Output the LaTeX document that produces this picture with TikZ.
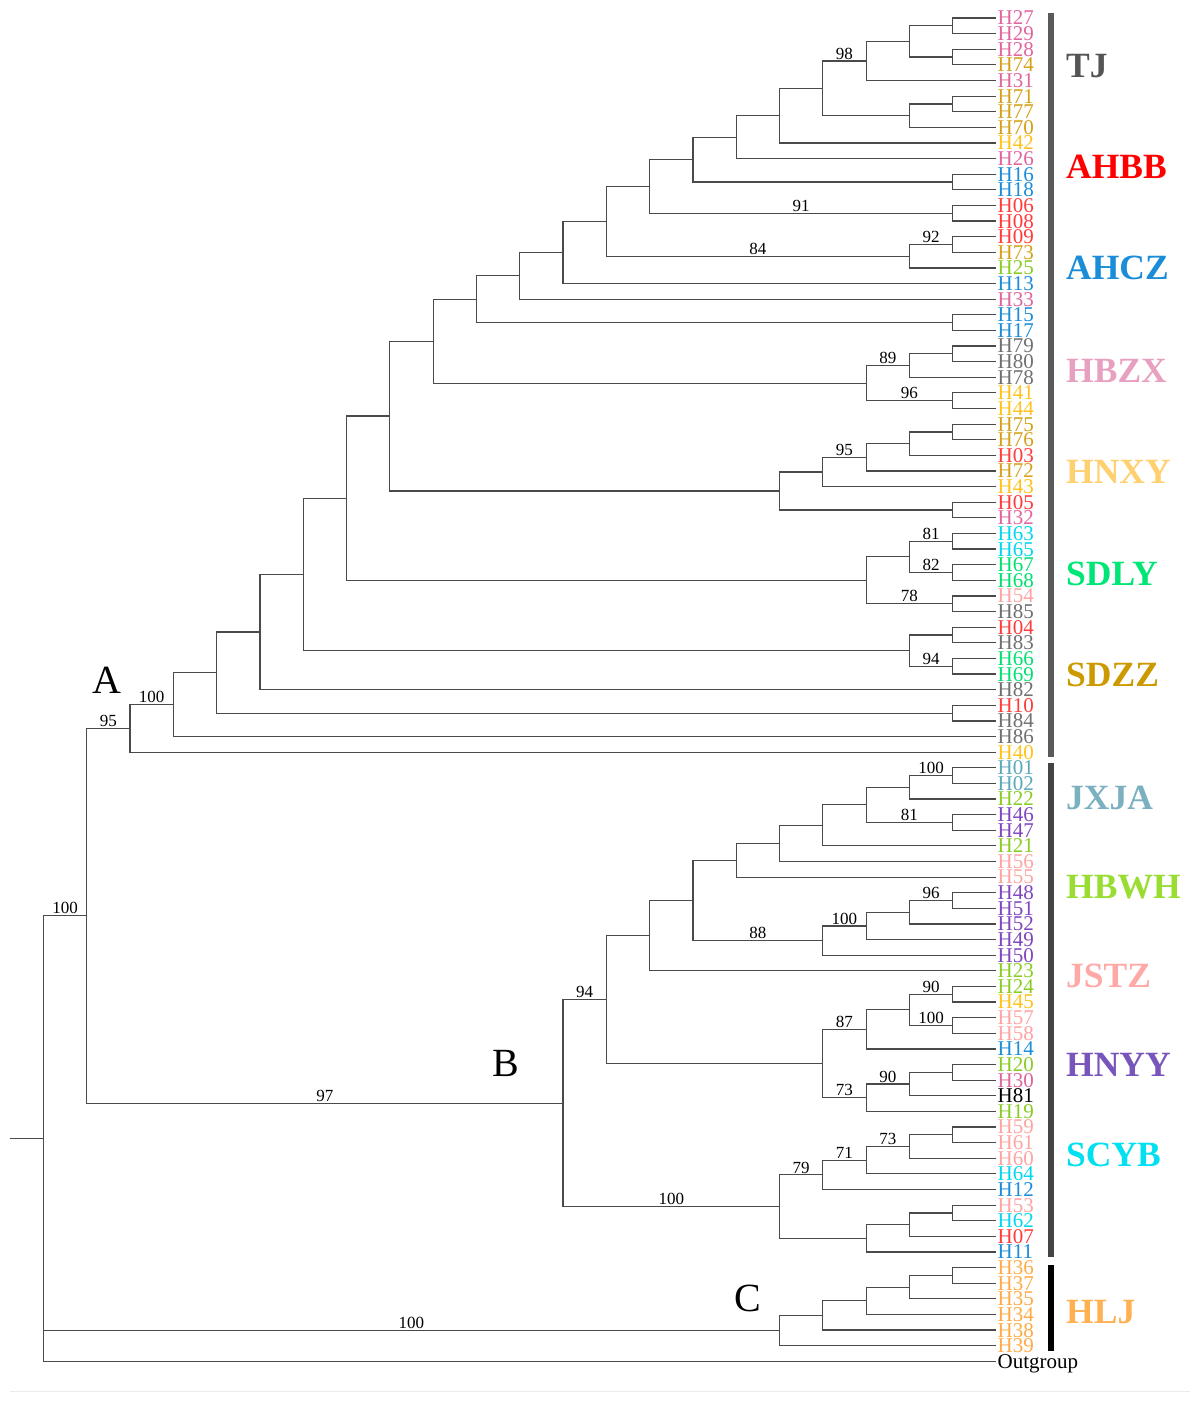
\documentclass[tikz,border=0pt]{standalone}
\usepackage{fontspec}
\setmainfont{Liberation Serif}
\usetikzlibrary{calc}

\definecolor{treeline}{HTML}{4A4A4A}
\definecolor{tj}{HTML}{707070}
\definecolor{ahbb}{HTML}{FF3B3B}
\definecolor{ahcz}{HTML}{1A8CD8}
\definecolor{hbzx}{HTML}{E0649E}
\definecolor{hnxy}{HTML}{FFC21A}
\definecolor{sdly}{HTML}{00E070}
\definecolor{sdzz}{HTML}{D4A017}
\definecolor{jxja}{HTML}{5AA8B8}
\definecolor{hbwh}{HTML}{88CC22}
\definecolor{jstz}{HTML}{FFA3A3}
\definecolor{hnyy}{HTML}{7F45BF}
\definecolor{scyb}{HTML}{00D8F0}
\definecolor{hlj}{HTML}{FFAA44}
\definecolor{tjlab}{HTML}{555555}
\definecolor{ahbblab}{HTML}{FF0000}
\definecolor{ahczlab}{HTML}{1A8CD8}
\definecolor{hbzxlab}{HTML}{E8A0C0}
\definecolor{hnxylab}{HTML}{FFD070}
\definecolor{sdlylab}{HTML}{00E676}
\definecolor{sdzzlab}{HTML}{CC9900}
\definecolor{jxjalab}{HTML}{7AB0C0}
\definecolor{hbwhlab}{HTML}{99DD33}
\definecolor{jstzlab}{HTML}{FFA8A8}
\definecolor{hnyylab}{HTML}{7755BB}
\definecolor{scyblab}{HTML}{00E0F0}
\definecolor{hljlab}{HTML}{FFB050}
\definecolor{barA}{HTML}{5A5A5A}
\definecolor{barB}{HTML}{444444}

\newcommand{\mkclade}[4]{%
  \coordinate (#1) at ($(#3)!.5!(#4)$);
  \coordinate (#1) at (L#2 |- #1);
  \draw[branch] (#3) -| (#1) |- (#4);
}
\newcommand{\bootlabel}[3]{%
  \path (#1 |- #2) -- (#2) node[boot, midway] (bs-#2) {#3};
}

\begin{document}
\begin{tikzpicture}[
    x=1pt, y=-1pt,
    branch/.style={draw=treeline, line width=1.2pt},
    leaf/.style={anchor=west, inner xsep=1.5pt, inner ysep=0pt, text depth=0pt,
        font=\fontsize{21}{21}\selectfont},
    boot/.style={above, inner sep=1.5pt, font=\fontsize{17}{17}\selectfont},
    clade/.style={font=\fontsize{40}{40}\selectfont},
    group/.style={anchor=west, inner sep=0pt, font=\fontsize{35.5}{35.5}\selectfont\bfseries},
    bar/.style={line width=5.5pt}
]
\useasboundingbox (0,0) rectangle (1197,1401);
\foreach \k in {0,...,22}
    \coordinate (L\k) at ({996-43.3*\k},0);
\foreach \name/\col [count=\i] in {
    H27/hbzx, H29/hbzx, H28/hbzx, H74/sdzz, H31/hbzx, H71/sdzz, H77/sdzz, H70/sdzz,
    H42/hnxy, H26/hbzx, H16/ahcz, H18/ahcz, H06/ahbb, H08/ahbb, H09/ahbb, H73/sdzz,
    H25/hbwh, H13/ahcz, H33/hbzx, H15/ahcz, H17/ahcz, H79/tj, H80/tj, H78/tj,
    H41/hnxy, H44/hnxy, H75/sdzz, H76/sdzz, H03/ahbb, H72/sdzz, H43/hnxy, H05/ahbb,
    H32/hbzx, H63/scyb, H65/scyb, H67/sdly, H68/sdly, H54/jstz, H85/tj, H04/ahbb,
    H83/tj, H66/sdly, H69/sdly, H82/tj, H10/ahbb, H84/tj, H86/tj, H40/hnxy,
    H01/jxja, H02/jxja, H22/hbwh, H46/hnyy, H47/hnyy, H21/hbwh, H56/jstz, H55/jstz,
    H48/hnyy, H51/hnyy, H52/hnyy, H49/hnyy, H50/hnyy, H23/hbwh, H24/hbwh, H45/hnxy,
    H57/jstz, H58/jstz, H14/ahcz, H20/hbwh, H30/hbzx, H81/black, H19/hbwh, H59/jstz,
    H61/jstz, H60/jstz, H64/scyb, H12/ahcz, H53/jstz, H62/scyb, H07/ahbb, H11/ahcz,
    H36/hlj, H37/hlj, H35/hlj, H34/hlj, H38/hlj, H39/hlj, Outgroup/black}
    \node[leaf, text=\col] (\name) at (996,{18+15.62*(\i-1)}) {\name};

\mkclade{a1}{1}{H27}{H29}
\mkclade{a2}{1}{H28}{H74}
\mkclade{a3}{2}{a1}{a2}
\mkclade{a4}{3}{a3}{H31}
\mkclade{a5}{1}{H71}{H77}
\mkclade{a6}{2}{a5}{H70}
\mkclade{a7}{4}{a4}{a6}
\mkclade{a8}{5}{a7}{H42}
\mkclade{a9}{6}{a8}{H26}
\mkclade{a10}{1}{H16}{H18}
\mkclade{a11}{7}{a9}{a10}
\mkclade{a12}{1}{H06}{H08}
\mkclade{a13}{8}{a11}{a12}
\mkclade{a14}{1}{H09}{H73}
\mkclade{a15}{2}{a14}{H25}
\mkclade{a16}{9}{a13}{a15}
\mkclade{a17}{10}{a16}{H13}
\mkclade{a18}{11}{a17}{H33}
\mkclade{a19}{1}{H15}{H17}
\mkclade{a20}{12}{a18}{a19}
\mkclade{a21}{1}{H79}{H80}
\mkclade{a22}{2}{a21}{H78}
\mkclade{a23}{1}{H41}{H44}
\mkclade{a24}{3}{a22}{a23}
\mkclade{a25}{13}{a20}{a24}
\mkclade{a26}{1}{H75}{H76}
\mkclade{a27}{2}{a26}{H03}
\mkclade{a28}{3}{a27}{H72}
\mkclade{a29}{4}{a28}{H43}
\mkclade{a30}{1}{H05}{H32}
\mkclade{a31}{5}{a29}{a30}
\mkclade{a32}{14}{a25}{a31}
\mkclade{a33}{1}{H63}{H65}
\mkclade{a34}{1}{H67}{H68}
\mkclade{a35}{2}{a33}{a34}
\mkclade{a36}{1}{H54}{H85}
\mkclade{a37}{3}{a35}{a36}
\mkclade{a38}{15}{a32}{a37}
\mkclade{a39}{1}{H04}{H83}
\mkclade{a40}{1}{H66}{H69}
\mkclade{a41}{2}{a39}{a40}
\mkclade{a42}{16}{a38}{a41}
\mkclade{a43}{17}{a42}{H82}
\mkclade{a44}{1}{H10}{H84}
\mkclade{a45}{18}{a43}{a44}
\mkclade{a46}{19}{a45}{H86}
\mkclade{a47}{20}{a46}{H40}

\mkclade{b1}{1}{H01}{H02}
\mkclade{b2}{2}{b1}{H22}
\mkclade{b3}{1}{H46}{H47}
\mkclade{b4}{3}{b2}{b3}
\mkclade{b5}{4}{b4}{H21}
\mkclade{b6}{5}{b5}{H56}
\mkclade{b7}{6}{b6}{H55}
\mkclade{b8}{1}{H48}{H51}
\mkclade{b9}{2}{b8}{H52}
\mkclade{b10}{3}{b9}{H49}
\mkclade{b11}{4}{b10}{H50}
\mkclade{b12}{7}{b7}{b11}
\mkclade{b13}{8}{b12}{H23}
\mkclade{b14}{1}{H24}{H45}
\mkclade{b15}{1}{H57}{H58}
\mkclade{b16}{2}{b14}{b15}
\mkclade{b17}{3}{b16}{H14}
\mkclade{b18}{1}{H20}{H30}
\mkclade{b19}{2}{b18}{H81}
\mkclade{b20}{3}{b19}{H19}
\mkclade{b21}{4}{b17}{b20}
\mkclade{b22}{9}{b13}{b21}
\mkclade{b23}{1}{H59}{H61}
\mkclade{b24}{2}{b23}{H60}
\mkclade{b25}{3}{b24}{H64}
\mkclade{b26}{4}{b25}{H12}
\mkclade{b27}{1}{H53}{H62}
\mkclade{b28}{2}{b27}{H07}
\mkclade{b29}{3}{b28}{H11}
\mkclade{b30}{5}{b26}{b29}
\mkclade{b31}{10}{b22}{b30}

\mkclade{c1}{1}{H36}{H37}
\mkclade{c2}{2}{c1}{H35}
\mkclade{c3}{3}{c2}{H34}
\mkclade{c4}{4}{c3}{H38}
\mkclade{c5}{5}{c4}{H39}

\mkclade{ab}{21}{a47}{b31}
\coordinate (root) at ($(ab)!.5!(Outgroup)$);
\coordinate (root) at (L22 |- root);
\coordinate (stub) at (10,0);
\draw[branch] (ab) -| (root) |- (Outgroup);
\draw[branch] (root |- c5) -- (c5);
\draw[branch] (root) -- (root -| stub);

\bootlabel{a7}{a4}{98}
\bootlabel{a13}{a12}{91}
\bootlabel{a15}{a14}{92}
\bootlabel{a16}{a15}{84}
\bootlabel{a24}{a22}{89}
\bootlabel{a24}{a23}{96}
\bootlabel{a29}{a28}{95}
\bootlabel{a35}{a33}{81}
\bootlabel{a35}{a34}{82}
\bootlabel{a37}{a36}{78}
\bootlabel{a41}{a40}{94}
\bootlabel{a47}{a46}{100}
\bootlabel{ab}{a47}{95}
\bootlabel{root}{ab}{100}
\bootlabel{b2}{b1}{100}
\bootlabel{b4}{b3}{81}
\bootlabel{b9}{b8}{96}
\bootlabel{b11}{b10}{100}
\bootlabel{b12}{b11}{88}
\bootlabel{b16}{b14}{90}
\bootlabel{b16}{b15}{100}
\bootlabel{b21}{b17}{87}
\bootlabel{b20}{b19}{90}
\bootlabel{b21}{b20}{73}
\bootlabel{b25}{b24}{73}
\bootlabel{b26}{b25}{71}
\bootlabel{b30}{b26}{79}
\bootlabel{b31}{b22}{94}
\bootlabel{b31}{b30}{100}
\bootlabel{ab}{b31}{97}
\bootlabel{root}{c5}{100}

\node[clade] (lblA) at (107,680) {A};
\node[clade] (lblB) at (506,1063) {B};
\node[clade] (lblC) at (748,1298) {C};

\draw[bar, barA] (1051,13) -- (1051,757);
\draw[bar, barB] (1051,763) -- (1051,1257);
\draw[bar, black] (1051,1265) -- (1051,1351);

\foreach \g/\y/\c in {TJ/66/tjlab, AHBB/167/ahbblab, AHCZ/268/ahczlab,
    HBZX/371/hbzxlab, HNXY/472/hnxylab, SDLY/574/sdlylab, SDZZ/675/sdzzlab,
    JXJA/798/jxjalab, HBWH/887/hbwhlab, JSTZ/976/jstzlab, HNYY/1065/hnyylab,
    SCYB/1155/scyblab, HLJ/1312/hljlab}
    \node[group, text=\c] (g\g) at (1066,\y) {\g};

\draw[black!8, line width=1pt] (10,1391) -- (1190,1391);
\end{tikzpicture}
\end{document}
